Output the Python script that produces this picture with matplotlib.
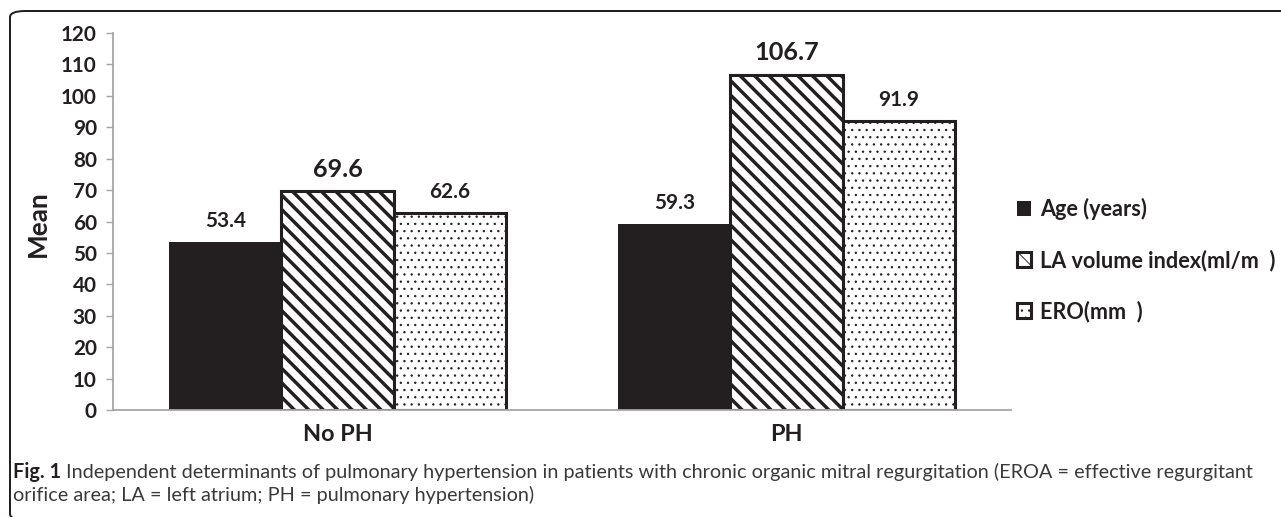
import matplotlib
matplotlib.use("Agg")
import matplotlib.pyplot as plt
import numpy as np
from matplotlib.patches import FancyBboxPatch

# data
groups = ['No PH', 'PH']
series = ['Age (years)', 'LA volume index(ml/m  )', 'ERO(mm  )']
age = [53.4, 59.3]
la_volume = [69.6, 106.7]
ero = [62.6, 91.9]
yticks = list(range(0, 130, 10))

ink = '#231f20'
W, H, DPI = 1281, 517, 130
plt.rcParams['font.family'] = ['Lato', 'DejaVu Sans']
plt.rcParams['hatch.color'] = ink

fig = plt.figure(figsize=(W / DPI, H / DPI), dpi=DPI)
ax = fig.add_axes([113 / W, 1 - 410 / H, (1011 - 113) / W, (410 - 33) / H])

x = np.arange(len(groups))
bw = 0.25
styles = [
    dict(color=ink, edgecolor=ink, linewidth=0, hatch=None, hlw=1.0),
    dict(color='white', edgecolor=ink, linewidth=1.7, hatch='\\\\\\', hlw=1.9),
    dict(color='white', edgecolor=ink, linewidth=1.7, hatch='...', hlw=0.5),
]
label_sizes = [11.5, 14, 11.5]

for i, (name, vals) in enumerate(zip(series, [age, la_volume, ero])):
    st = styles[i]
    plt.rcParams['hatch.linewidth'] = st['hlw']
    b = ax.bar(x + (i - 1) * bw, vals, bw, color=st['color'], edgecolor=st['edgecolor'],
               linewidth=st['linewidth'], hatch=st['hatch'], label=name, zorder=2)
    for p in b:
        if hasattr(p, 'set_hatch_linewidth'):
            p.set_hatch_linewidth(st['hlw'])
    ax.bar_label(b, labels=[f'{v:.1f}' for v in vals], padding=6,
                 fontsize=label_sizes[i], fontweight='bold', color=ink)

ax.set_xlim(-0.5, 1.5)
ax.set_ylim(0, 120)
ax.set_yticks(yticks)
ax.set_xticks(x)
ax.set_xticklabels(groups, fontsize=13, fontweight='bold', color=ink)
for t in ax.get_yticklabels():
    t.set_fontsize(11.5)
    t.set_fontweight('bold')
    t.set_color(ink)
ax.tick_params(axis='y', length=4, width=0.8, color='#a6a6a6', pad=5)
ax.tick_params(axis='x', length=0, pad=8)
for s in ['top', 'right']:
    ax.spines[s].set_visible(False)
for s in ['left', 'bottom']:
    ax.spines[s].set_color('#a6a6a6')
    ax.spines[s].set_linewidth(1.0)
ax.spines['bottom'].set_zorder(3)

fig.text(38 / W, 1 - 224 / H, 'Mean', rotation=90, ha='center', va='center',
         fontsize=14.5, fontweight='bold', color=ink)

ax.legend(loc='center left', bbox_to_anchor=(1017 / W, 1 - 260 / H),
          bbox_transform=fig.transFigure, frameon=False,
          prop=dict(weight='bold', size=12), labelcolor=ink,
          handlelength=0.65, handleheight=0.65, handletextpad=0.4,
          labelspacing=1.35, borderpad=0, borderaxespad=0)

# frame around figure
frame = FancyBboxPatch((10 / W, -3 / H), 1.2, 1 - 8 / H, boxstyle='round,pad=0,rounding_size=0.012',
                       transform=fig.transFigure, fill=False, edgecolor=ink, linewidth=1.1,
                       clip_on=False)
fig.patches.append(frame)

# caption
cap_y1 = 1 - 478 / H
cap_y2 = 1 - 501 / H
cap_size = 11
t1 = fig.text(13 / W, cap_y1, 'Fig. 1', fontsize=cap_size, fontweight='bold', color=ink, va='baseline')
fig.canvas.draw()
bb = t1.get_window_extent()
fig.text((bb.x1 + 5) / W, cap_y1,
         'Independent determinants of pulmonary hypertension in patients with chronic organic '
         'mitral regurgitation (EROA = effective regurgitant',
         fontsize=cap_size, color='#3a3a3a', va='baseline')
fig.text(13 / W, cap_y2, 'orifice area; LA = left atrium; PH = pulmonary hypertension)',
         fontsize=cap_size, color='#3a3a3a', va='baseline')

fig.savefig('out.png', dpi=DPI)
